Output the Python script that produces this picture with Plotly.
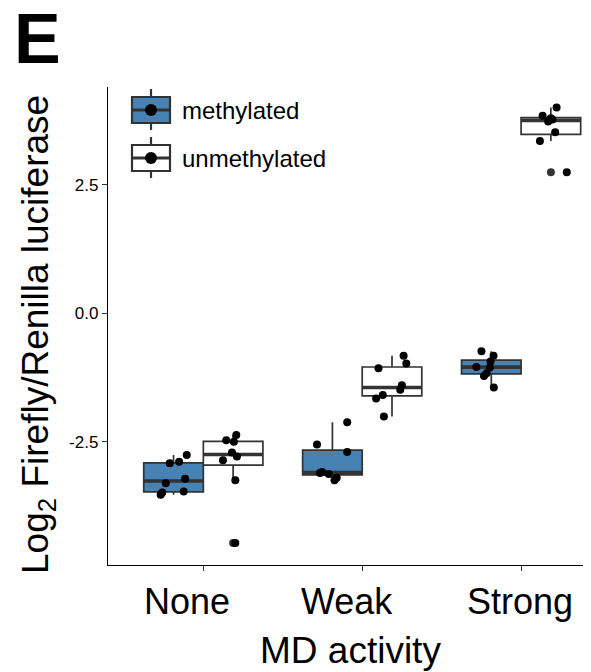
import numpy as np
import plotly.graph_objects as go

# ---------------- data ----------------
categories = ["None", "Weak", "Strong"]
groups = ["methylated", "unmethylated"]

none_meth = [-2.76, -2.89, -2.92, -3.22, -3.31, -3.47, -3.49, -3.53]
none_meth_jit = [0.083, 0.035, -0.024, 0.073, -0.049, 0.064, -0.071, -0.081]
none_unmeth = [-2.47, -2.37, -2.50, -2.71, -2.79, -2.86, -3.25, -4.47]
none_unmeth_jit = [-0.043, 0.02, 0.005, -0.007, 0.024, -0.064, 0.014, 0.014]

weak_meth = [-2.12, -2.555, -2.70, -3.09, -3.11, -3.13, -3.20, -3.25]
weak_meth_jit = [0.093, -0.097, 0.093, -0.065, -0.078, -0.023, 0.027, 0.013]
weak_unmeth = [-0.83, -0.98, -1.07, -1.40, -1.49, -1.59, -1.66, -2.01]
weak_unmeth_jit = [0.073, 0.09, -0.085, 0.062, 0.052, -0.058, -0.1, -0.051]

strong_meth = [-0.74, -0.83, -0.94, -1.045, -1.055, -1.17, -1.22, -1.445]
strong_meth_jit = [-0.062, 0.014, -0.005, -0.094, -0.009, -0.03, -0.046, 0.016]
strong_unmeth = [4.00, 3.84, 3.79, 3.73, 3.52, 3.35, 2.74, 3.77]
strong_unmeth_jit = [0.036, -0.052, 0.0, -0.017, 0.027, -0.069, 0.1, 0.01]

y_ticks = [-2.5, 0.0, 2.5]
y_ticklabels = ["-2.5", "0.0", "2.5"]

series = {
    ("None", "methylated"): (none_meth, none_meth_jit),
    ("None", "unmethylated"): (none_unmeth, none_unmeth_jit),
    ("Weak", "methylated"): (weak_meth, weak_meth_jit),
    ("Weak", "unmethylated"): (weak_unmeth, weak_unmeth_jit),
    ("Strong", "methylated"): (strong_meth, strong_meth_jit),
    ("Strong", "unmethylated"): (strong_unmeth, strong_unmeth_jit),
}

# ---------------- styles ----------------
FONT = "Liberation Sans, Arial, Helvetica, sans-serif"
fills = {"methylated": "#4682B4", "unmethylated": "#FFFFFF"}
edge = "#333333"
box_w = 0.375
dodge = {"methylated": -box_w / 2, "unmethylated": box_w / 2}

# The page body has an 8px margin, so figure pixel = page pixel - 8.
OFF = 8
W, H = 591, 672
PLOT_L, PLOT_R, PLOT_T, PLOT_B = 108, 591, 87, 565   # page pixels of the panel
ML = PLOT_L - OFF
MR = W - (PLOT_R - OFF)
MT = PLOT_T - OFF
MB = H - (PLOT_B - OFF)
PW, PH = PLOT_R - PLOT_L, PLOT_B - PLOT_T


def px(x):
    return (x - PLOT_L) / PW


def py(y):
    return (PLOT_B - y) / PH


fig = go.Figure()

med_x, med_y = [], []
out_x, out_y = [], []
pt_x, pt_y = [], []

for ci, cat in enumerate(categories, start=1):
    for g in groups:
        vals, jit = series[(cat, g)]
        v = np.array(vals)
        q1, med, q3 = np.percentile(v, [25, 50, 75])
        iqr = q3 - q1
        lo = v[v >= q1 - 1.5 * iqr].min()
        hi = v[v <= q3 + 1.5 * iqr].max()
        xc = ci + dodge[g]
        fig.add_trace(go.Box(
            x=[xc], q1=[q1], median=[med], q3=[q3],
            lowerfence=[lo], upperfence=[hi],
            width=box_w, whiskerwidth=0,
            fillcolor=fills[g], line=dict(color=edge, width=1.7),
            boxpoints=False, showlegend=False, hoverinfo="skip",
        ))
        med_x += [xc - box_w / 2, xc + box_w / 2, None]
        med_y += [med, med, None]
        for val in v:
            if val < lo or val > hi:
                out_x.append(xc)
                out_y.append(val)
        for val, j in zip(vals, jit):
            pt_x.append(xc + j)
            pt_y.append(val)

fig.add_trace(go.Scatter(x=med_x, y=med_y, mode="lines",
                         line=dict(color=edge, width=3.6),
                         showlegend=False, hoverinfo="skip"))
fig.add_trace(go.Scatter(x=out_x, y=out_y, mode="markers",
                         marker=dict(color=edge, size=8),
                         showlegend=False, hoverinfo="skip"))
fig.add_trace(go.Scatter(x=pt_x, y=pt_y, mode="markers",
                         marker=dict(color="black", size=8),
                         showlegend=False, hoverinfo="skip"))

# ---------------- custom legend (ggplot-like keys) ----------------
shapes = []
annotations = []
legend_rows = [("methylated", 110), ("unmethylated", 158)]
for name, yc in legend_rows:
    x0, x1, xm = 132, 170, 151
    shapes.append(dict(type="line", xref="paper", yref="paper",
                       x0=px(xm), x1=px(xm), y0=py(yc - 21), y1=py(yc + 20),
                       line=dict(color=edge, width=2.2)))
    shapes.append(dict(type="rect", xref="paper", yref="paper",
                       x0=px(x0), x1=px(x1), y0=py(yc - 13), y1=py(yc + 13),
                       fillcolor=fills[name], line=dict(color=edge, width=2.2)))
    shapes.append(dict(type="line", xref="paper", yref="paper",
                       x0=px(x0), x1=px(x1), y0=py(yc), y1=py(yc),
                       line=dict(color=edge, width=3)))
    shapes.append(dict(type="circle", xref="paper", yref="paper",
                       x0=px(xm - 6), x1=px(xm + 6), y0=py(yc - 6), y1=py(yc + 6),
                       fillcolor="black", line=dict(color="black", width=0)))
    annotations.append(dict(text=name, xref="paper", yref="paper",
                            x=px(180), y=py(yc), xanchor="left", yanchor="middle",
                            showarrow=False, font=dict(family=FONT, size=24, color="black")))

# x tick labels (as in the reference, slightly left of the ticks)
label_shift = [-16, -15, -1]
for ci, (cat, sh) in enumerate(zip(categories, label_shift), start=1):
    annotations.append(dict(text=cat, xref="x", yref="paper", x=ci, xshift=sh,
                            y=py(601), xanchor="center", yanchor="middle",
                            showarrow=False, font=dict(family=FONT, size=36, color="black")))

# axis titles
annotations.append(dict(text="MD activity", xref="paper", yref="paper",
                        x=px(350), y=py(650), xanchor="center", yanchor="middle",
                        showarrow=False, font=dict(family=FONT, size=37, color="black")))
annotations.append(dict(text="Log<sub>2</sub> Firefly/Renilla luciferase",
                        xref="paper", yref="paper", x=px(38), y=py(335),
                        xanchor="center", yanchor="middle", textangle=-90,
                        showarrow=False, font=dict(family=FONT, size=37, color="black")))
# panel letter
annotations.append(dict(text="<b>E</b>", xref="paper", yref="paper",
                        x=px(12), y=py(39), xanchor="left", yanchor="middle",
                        showarrow=False, font=dict(family=FONT, size=70, color="black")))

fig.update_layout(
    width=W, height=H,
    margin=dict(l=ML, r=MR, t=MT, b=MB, pad=0),
    paper_bgcolor="white", plot_bgcolor="white",
    shapes=shapes, annotations=annotations,
    showlegend=False,
    font=dict(family=FONT),
)
fig.update_xaxes(range=[0.4, 3.44], tickvals=[1, 2, 3], showticklabels=False,
                 ticks="outside", ticklen=5, tickcolor=edge, tickwidth=1.3,
                 showline=True, linecolor="black", linewidth=1.4,
                 showgrid=False, zeroline=False)
fig.update_yaxes(range=[-4.899, 4.40], tickvals=y_ticks, ticktext=y_ticklabels,
                 ticks="outside", ticklen=5, tickcolor=edge, tickwidth=1.3,
                 tickfont=dict(family=FONT, size=17, color="black"),
                 showline=True, linecolor="black", linewidth=1.4,
                 showgrid=False, zeroline=False)

fig.write_html("out.html")
